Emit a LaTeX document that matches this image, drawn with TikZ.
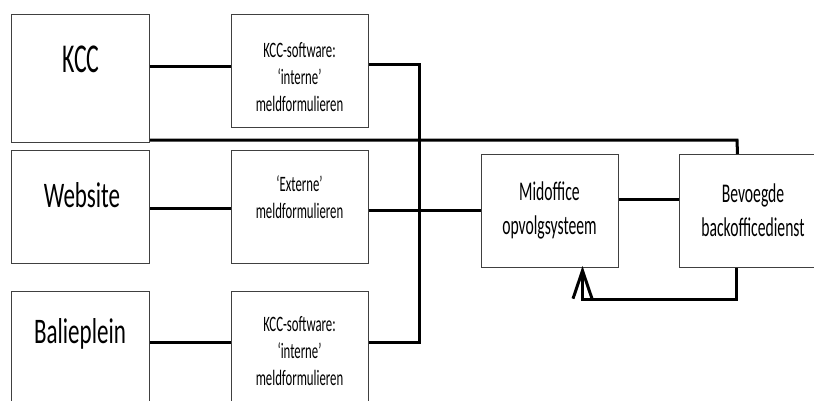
\documentclass[tikz,border=0pt]{standalone}
\usepackage{fontspec}
\usetikzlibrary{arrows.meta}
% condensed Calibri-metric face for all labels
\newfontfamily\cnar[FakeStretch=0.58]{Carlito}
\newfontfamily\cwide[FakeStretch=0.64]{Carlito}
\tikzset{
  box/.style={draw=black!75, line width=1pt, fill=white, anchor=north west, inner sep=0pt},
  wire/.style={line width=3pt, black, line join=miter},
  biglbl/.style={font=\cnar\fontsize{41}{49}\selectfont, inner sep=0pt, anchor=base},
  midlbl/.style={font=\cwide\fontsize{36}{43}\selectfont, inner sep=0pt, anchor=base},
  smalllbl/.style={font=\cnar\fontsize{22}{27}\selectfont, inner sep=0pt, align=center},
  officelbl/.style={font=\cnar\fontsize{27}{34}\selectfont, inner sep=0pt, align=center}
}
\begin{document}
\begin{tikzpicture}[x=1pt,y=-1pt]
\useasboundingbox (0,0) rectangle (814,400);
\fill[white] (0,0) rectangle (814,400);
\clip (0,0) rectangle (814,400);

% sources
\node[box, minimum width=138pt, minimum height=128pt] (kcc) at (11,14) {};
\node[box, minimum width=138pt, minimum height=113pt] (web) at (11,150) {};
\node[box, minimum width=138pt, minimum height=130pt] (bal) at (11,291) {};
\node[biglbl] (kcct) at (81,72) {KCC};
\node[midlbl] (webt) at (82,207) {Website};
\node[midlbl] (balt) at (80,343) {Balieplein};

% forms
\node[box, minimum width=137pt, minimum height=113pt] (ks1) at (231,14) {};
\node[box, minimum width=137pt, minimum height=113pt] (ext) at (231,150) {};
\node[box, minimum width=137pt, minimum height=130pt] (ks3) at (231,291) {};
\node[smalllbl] (ks1t) at (299.5,77) {KCC-software:\\‘interne’\\meldformulieren};
\node[smalllbl] (extt) at (299.5,197) {‘Externe’\\meldformulieren};
\node[smalllbl] (ks3t) at (299.5,351) {KCC-software:\\‘interne’\\meldformulieren};

% mid- and backoffice
\node[box, minimum width=137pt, minimum height=113pt] (mid) at (481,154) {};
\node[box, minimum width=148pt, minimum height=113pt] (back) at (679,154) {};
\node[officelbl] (midt) at (549.5,210) {Midoffice\\opvolgsysteem};
\node[officelbl] (backt) at (753,210) {Bevoegde\\backofficedienst};

% collecting bus for the two KCC-software forms
\coordinate (busTop) at (419,64);
\coordinate (busBot) at (419,342);

% connectors
\draw[wire] (kcc.east |- 0,66) -- (ks1.west |- 0,66);
\draw[wire] (web.east |- 0,208) -- (ext.west |- 0,208);
\draw[wire] (bal.east |- busBot) -- (ks3.west |- busBot);
\draw[wire] (ks1.east |- busTop) -- (busTop) -- (busBot) -- (ks3.east |- busBot);
\draw[wire] (ext.east |- 0,210) -- (mid.west |- 0,210);
\draw[wire] (mid.east |- 0,199) -- (back.west |- 0,199);
\draw[wire] (kcc.east |- 0,140) -- (737,140) -- ([xshift=-16pt]back.north);
\draw[wire, -{Straight Barb[length=28pt,width=19pt,line width=3pt]}]
  ([xshift=-17pt]back.south) -- ++(0,31) -| ([xshift=32.5pt,yshift=2pt]mid.south);
\end{tikzpicture}
\end{document}
